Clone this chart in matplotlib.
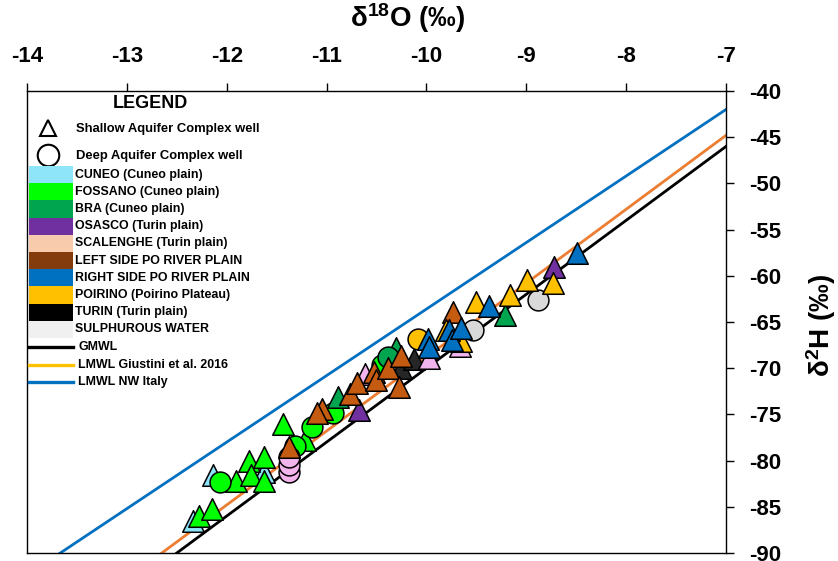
import matplotlib
matplotlib.use("Agg")
import matplotlib.pyplot as plt
import numpy as np
from matplotlib.patches import Rectangle
from matplotlib.lines import Line2D

plt.rcParams['font.family'] = ['Liberation Sans', 'DejaVu Sans']
plt.rcParams['font.weight'] = 'bold'
plt.rcParams['axes.unicode_minus'] = False
plt.rcParams['mathtext.fontset'] = 'custom'
plt.rcParams['mathtext.rm'] = 'Liberation Sans:bold'
plt.rcParams['mathtext.it'] = 'Liberation Sans:bold'
plt.rcParams['mathtext.bf'] = 'Liberation Sans:bold'

# groups: name, legend colour, marker colour
groups = ['CUNEO (Cuneo plain)', 'FOSSANO (Cuneo plain)', 'BRA (Cuneo plain)',
          'OSASCO (Turin plain)', 'SCALENGHE (Turin plain)', 'LEFT SIDE PO RIVER PLAIN',
          'RIGHT SIDE PO RIVER PLAIN', 'POIRINO (Poirino Plateau)', 'TURIN (Turin plain)',
          'SULPHUROUS WATER']
legend_colors = ['#8EE5FA', '#00FF00', '#00A550', '#7030A0', '#F8CBAD', '#843C0C',
                 '#0070C0', '#FFC000', '#000000', '#F0F0F0']
marker_colors = ['#8EE5FA', '#00FF00', '#00A550', '#7030A0', '#F2B4EC', '#C55A11',
                 '#0070C0', '#FFC000', '#262626', '#D9D9D9']

# shallow wells (triangles): d18O, d2H
shallow = {
    'CUNEO (Cuneo plain)': ([-12.335, -12.14, -11.63], [-86.5, -81.6, -81.2]),
    'FOSSANO (Cuneo plain)': ([-12.28, -12.15, -11.91, -11.78, -11.63, -11.76, -11.625, -11.44, -11.22],
                              [-86.0, -85.2, -82.2, -80.0, -79.6, -81.6, -82.2, -76.0, -77.8]),
    'BRA (Cuneo plain)': ([-10.89, -10.30, -9.21], [-73.1, -67.8, -64.25]),
    'OSASCO (Turin plain)': ([-10.68, -8.72], [-74.5, -59.0]),
    'TURIN (Turin plain)': ([-10.25, -10.12], [-70.0, -69.0]),
    'SCALENGHE (Turin plain)': ([-10.62, -9.97, -9.66], [-70.6, -68.9, -67.6]),
    'LEFT SIDE PO RIVER PLAIN': ([-11.38, -11.05, -11.1, -10.77, -10.70, -10.53, -10.51, -10.38, -10.25, -10.27, -9.73],
                                 [-78.5, -74.4, -74.9, -72.8, -71.6, -70.4, -71.3, -70.0, -68.7, -72.0, -63.9]),
    'SULPHUROUS WATER': ([], []),
    'POIRINO (Poirino Plateau)': ([-9.80, -9.65, -9.5, -9.16, -8.99, -8.73],
                                  [-65.9, -67.1, -62.8, -62.1, -60.45, -60.8]),
    'RIGHT SIDE PO RIVER PLAIN': ([-9.98, -9.97, -9.77, -9.74, -9.65, -9.37, -8.49],
                                  [-66.8, -67.7, -65.9, -67.0, -65.7, -63.3, -57.5]),
}
# deep wells (circles)
deep = {
    'FOSSANO (Cuneo plain)': ([-12.07, -11.32, -11.15, -10.94, -10.44], [-82.3, -78.4, -76.4, -74.9, -69.7]),
    'BRA (Cuneo plain)': ([-10.38], [-68.8]),
    'SCALENGHE (Turin plain)': ([-11.38, -11.38, -11.38], [-81.2, -80.5, -79.6]),
    'SULPHUROUS WATER': ([-9.53, -8.88], [-65.9, -62.6]),
    'POIRINO (Poirino Plateau)': ([-10.08], [-66.8]),
}
draw_order = ['CUNEO (Cuneo plain)', 'FOSSANO (Cuneo plain)', 'BRA (Cuneo plain)',
              'OSASCO (Turin plain)', 'TURIN (Turin plain)', 'SCALENGHE (Turin plain)',
              'LEFT SIDE PO RIVER PLAIN', 'SULPHUROUS WATER', 'POIRINO (Poirino Plateau)',
              'RIGHT SIDE PO RIVER PLAIN']

# meteoric water lines: slope, intercept
mwl_names = ['GMWL', 'LMWL Giustini et al. 2016', 'LMWL NW Italy']
mwl_slope = [8.0, 8.0, 7.2]
mwl_icpt = [10.0, 11.2, 8.4]
mwl_colors = ['#000000', '#ED7D31', '#0070C0']
mwl_legend_colors = ['#000000', '#FFC000', '#0070C0']

x_ticks = np.arange(-14, -6, 1)
y_ticks = np.arange(-90, -35, 5)

fig = plt.figure(figsize=(8.38, 5.61), dpi=100)
W, H = 838, 561
L, R, T, B = 27, 726, 91, 553
ax = fig.add_axes([L / W, 1 - B / H, (R - L) / W, (B - T) / H])

xs = np.linspace(-14, -7, 50)
for s, c, col in zip(mwl_slope, mwl_icpt, mwl_colors):
    ax.plot(xs, s * xs + c, color=col, lw=2.0, zorder=2)

z = 3
msz = 15.5
for g in draw_order:
    col = marker_colors[groups.index(g)]
    if g in shallow and len(shallow[g][0]):
        ax.scatter(shallow[g][0], shallow[g][1], marker='^', s=msz ** 2, c=col,
                   edgecolors='black', linewidths=1.1, zorder=z)
        z += 1
    if g in deep:
        ax.scatter(deep[g][0], deep[g][1], marker='o', s=(msz - 0.5) ** 2, c=col,
                   edgecolors='black', linewidths=1.1, zorder=z)
        z += 1

ax.set_xlim(-14, -7)
ax.set_ylim(-90, -40)
ax.xaxis.tick_top()
ax.yaxis.tick_right()
ax.set_xticks(x_ticks)
ax.set_yticks(y_ticks)
ax.set_xticklabels([str(v) for v in x_ticks])
ax.set_yticklabels([str(v) for v in y_ticks])
ax.tick_params(axis='both', direction='out', length=6, width=1.0, labelsize=16, pad=11)
for sp in ax.spines.values():
    sp.set_linewidth(1.0)

fig.text(408 / W, 1 - 18 / H, r'δ$^{18}$O (‰)', ha='center', va='center', fontsize=20, fontweight='bold')
fig.text(821 / W, 1 - 325 / H, r'δ$^{2}$H (‰)', ha='center', va='center', rotation=90,
         fontsize=20, fontweight='bold')


# manual legend in pixel coordinates
def axp(px, py):
    return ((px - L) / (R - L), (B - py) / (B - T))


ax.text(*axp(150, 104), 'LEGEND', transform=ax.transAxes, ha='center', va='center',
        fontsize=13, fontweight='bold', zorder=20)
ax.add_line(Line2D([axp(47.5, 128)[0]], [axp(47.5, 128)[1]], marker='^', ms=11, mfc='white',
                   mec='black', mew=1.5, transform=ax.transAxes, zorder=20))
ax.text(*axp(76, 129), 'Shallow Aquifer Complex well', transform=ax.transAxes, va='center',
        fontsize=9.4, fontweight='bold', zorder=20)
ax.add_line(Line2D([axp(47.5, 155)[0]], [axp(47.5, 155)[1]], marker='o', ms=15.5, mfc='white',
                   mec='black', mew=1.5, transform=ax.transAxes, zorder=20))
ax.text(*axp(76, 156), 'Deep Aquifer Complex well', transform=ax.transAxes, va='center',
        fontsize=9.4, fontweight='bold', zorder=20)

top = 166
step = 17.2
for i, (g, col) in enumerate(zip(groups, legend_colors)):
    y0 = top + i * step
    x0, yb = axp(29, y0 + step)
    x1, yt = axp(73, y0)
    ax.add_patch(Rectangle((x0, yb), x1 - x0, yt - yb, facecolor=col, edgecolor='none',
                           transform=ax.transAxes, zorder=20))
    ax.text(*axp(75, y0 + step / 2), g, transform=ax.transAxes, va='center',
            fontsize=8.9, fontweight='bold', zorder=20)

for i, (name, col) in enumerate(zip(mwl_names, mwl_legend_colors)):
    py = 347 + i * 17.5
    x0, y = axp(29, py)
    x1, _ = axp(73, py)
    ax.add_line(Line2D([x0, x1], [y, y], color=col, lw=2.4, transform=ax.transAxes, zorder=20))
    ax.text(*axp(78, py), name, transform=ax.transAxes, va='center',
            fontsize=8.9, fontweight='bold', zorder=20)

fig.savefig('out.png', dpi=100)
